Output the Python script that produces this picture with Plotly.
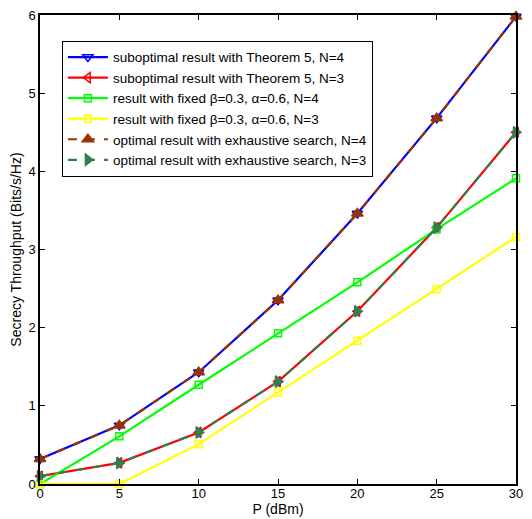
import plotly.graph_objects as go

P = [0, 5, 10, 15, 20, 25, 30]
sub_n4 = [0.32, 0.75, 1.43, 2.35, 3.46, 4.68, 5.98]
sub_n3 = [0.10, 0.27, 0.66, 1.31, 2.21, 3.28, 4.50]
fix_n4 = [0.0, 0.61, 1.27, 1.93, 2.58, 3.26, 3.91]
fix_n3 = [0.0, 0.0, 0.51, 1.17, 1.83, 2.49, 3.16]
opt_n4 = [0.32, 0.75, 1.43, 2.35, 3.46, 4.68, 5.98]
opt_n3 = [0.10, 0.27, 0.66, 1.31, 2.21, 3.28, 4.50]

names = [
    "suboptimal result with Theorem 5, N=4",
    "suboptimal result with Theorem 5, N=3",
    "result with fixed \u03b2=0.3, \u03b1=0.6, N=4",
    "result with fixed \u03b2=0.3, \u03b1=0.6, N=3",
    "optimal result with exhaustive search, N=4",
    "optimal result with exhaustive search, N=3",
]

series = [
    (sub_n4, "#0000ff", "solid", "triangle-down-open", 9),
    (sub_n3, "#ff0000", "solid", "triangle-left-open", 9),
    (fix_n4, "#00ff00", "solid", "square-open", 7),
    (fix_n3, "#ffff00", "solid", "square-open", 7),
    (opt_n4, "#993300", "dash", "triangle-up", 10),
    (opt_n3, "#2f8050", "dash", "triangle-right", 10),
]

fig = go.Figure()
for (vals, col, dash, sym, size), nm in zip(series, names):
    fig.add_trace(go.Scatter(
        x=P, y=vals, name=nm, mode="lines+markers", cliponaxis=False,
        line=dict(color=col, width=2.2, dash=dash),
        marker=dict(symbol=sym, size=size, color=col,
                    line=dict(color=col, width=1.5)),
    ))

font = "Liberation Sans, Arial, sans-serif"
fig.update_layout(
    width=532, height=519,
    margin=dict(l=40, r=16, t=15, b=35),
    paper_bgcolor="white", plot_bgcolor="white",
    font=dict(family=font, size=13, color="black"),
    showlegend=True,
    legend=dict(
        x=0.046, y=0.945, xanchor="left", yanchor="top",
        bgcolor="white", bordercolor="black", borderwidth=1,
        font=dict(family=font, size=13.5, color="black"),
        tracegroupgap=0, itemwidth=40,
    ),
    xaxis=dict(
        range=[0, 30], tickvals=[0, 5, 10, 15, 20, 25, 30],
        ticks="inside", ticklen=5, tickcolor="black",
        showline=True, linecolor="black", linewidth=1.5, mirror="ticks",
        showgrid=False, zeroline=False, automargin=False,
        tickfont=dict(size=13), ticklabelstandoff=-3,
        title=dict(text="P (dBm)", standoff=0, font=dict(size=14)),
    ),
    yaxis=dict(
        range=[0, 6], tickvals=[0, 1, 2, 3, 4, 5, 6],
        ticks="inside", ticklen=5, tickcolor="black",
        showline=True, linecolor="black", linewidth=1.5, mirror="ticks",
        showgrid=False, zeroline=False, automargin=False,
        tickfont=dict(size=13),
        title=dict(text="Secrecy Throughput (Bits/s/Hz)", standoff=4, font=dict(size=14)),
    ),
)

fig.write_html("out.html", config={"displayModeBar": False},
               post_script="document.body.style.margin='0';")
